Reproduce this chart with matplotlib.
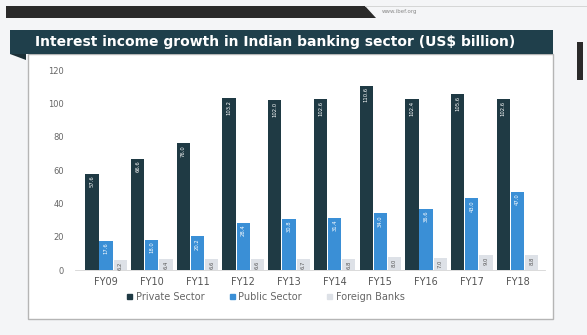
import numpy as np
import matplotlib.pyplot as plt
from matplotlib.patches import Patch, Polygon, Rectangle

years = ['FY09', 'FY10', 'FY11', 'FY12', 'FY13', 'FY14', 'FY15', 'FY16', 'FY17', 'FY18']
private = [57.6, 66.6, 76.0, 103.2, 102.0, 102.6, 110.6, 102.4, 105.6, 102.6]
public = [17.6, 18.0, 20.2, 28.4, 30.8, 31.4, 34.0, 36.6, 43.0, 47.0]
foreign = [6.2, 6.4, 6.6, 6.6, 6.7, 6.8, 8.0, 7.0, 9.0, 8.8]

W, H = 587, 335
fig = plt.figure(figsize=(W / 100, H / 100), dpi=100)
fig.patch.set_facecolor('#f4f5f7')


def px(x, y):
    # pixel coords (top-left origin) -> figure fraction
    return x / W, 1 - y / H


# header strip with slanted end
fig.patches.append(Polygon([px(6, 6), px(365, 6), px(376, 18), px(6, 18)],
                           closed=True, transform=fig.transFigure,
                           facecolor='#2a2a2a', edgecolor='none'))
fig.lines.append(plt.Line2D([px(365, 6)[0], 1], [px(0, 6)[1]] * 2,
                            transform=fig.transFigure, color='#d0d0d0', lw=0.6))
fig.text(*px(382, 11), 'www.ibef.org', fontsize=4, color='#8a8a8a', va='center')

# side tab on the right
fig.patches.append(Rectangle(px(577, 80), 6 / W, 38 / H, transform=fig.transFigure,
                             facecolor='#2a2a2a', edgecolor='none'))

# chart panel
fig.patches.append(Rectangle(px(28, 319), 525 / W, 265 / H, transform=fig.transFigure,
                             facecolor='white', edgecolor='#b5b5b5', lw=1.0))
fig.patches.append(Polygon([px(10, 54), px(26, 54), px(26, 60)], closed=True,
                           transform=fig.transFigure, facecolor='#1b2f36',
                           edgecolor='none'))
fig.patches.append(Rectangle(px(10, 54), 543 / W, 24 / H, transform=fig.transFigure,
                             facecolor='#1f3f4b', edgecolor='none'))
fig.text(*px(35, 42), 'Interest income growth in Indian banking sector (US$ billion)',
         fontsize=10, fontweight='bold', color='white', va='center')

ax = fig.add_axes([75 / W, 1 - 270 / H, 470 / W, 200 / H])
ax.set_zorder(5)
ax.patch.set_alpha(0)

x = np.arange(len(years))
bw = 0.29
b1 = ax.bar(x - 0.31, private, bw, color='#1f3a44')
b2 = ax.bar(x, public, bw, color='#3a8fd6')
b3 = ax.bar(x + 0.31, foreign, bw, color='#dde1e7')

for bars, vals, col in ((b1, private, 'white'), (b2, public, 'white'), (b3, foreign, '#555555')):
    for r, v in zip(bars, vals):
        ax.text(r.get_x() + r.get_width() / 2, v - 1.0, f'{v:.1f}', rotation=90,
                ha='center', va='top', fontsize=3.8, color=col)

ax.set_xlim(-0.68, 9.6)
ax.set_ylim(0, 120)
ax.set_yticks(range(0, 121, 20))
ax.set_xticks(x)
ax.set_xticklabels(years)
ax.tick_params(axis='y', length=0, labelsize=6, labelcolor='#666666', pad=8)
ax.tick_params(axis='x', length=0, labelsize=7, labelcolor='#555555', pad=5)
for s in ('top', 'right', 'left'):
    ax.spines[s].set_visible(False)
ax.spines['bottom'].set_color('#d5d5d5')
ax.spines['bottom'].set_linewidth(0.6)

handles = [Patch(color='#1f3a44', label='Private Sector'),
           Patch(color='#3a8fd6', label='Public Sector'),
           Patch(color='#dde1e7', label='Foreign Banks')]
fig.legend(handles=handles, loc='center', bbox_to_anchor=px(266, 297), ncol=3,
           frameon=False, fontsize=7, labelcolor='#666666', handlelength=0.5,
           handleheight=0.5, handletextpad=0.4, columnspacing=2.6)

fig.savefig('out.png', dpi=100, facecolor=fig.get_facecolor())
